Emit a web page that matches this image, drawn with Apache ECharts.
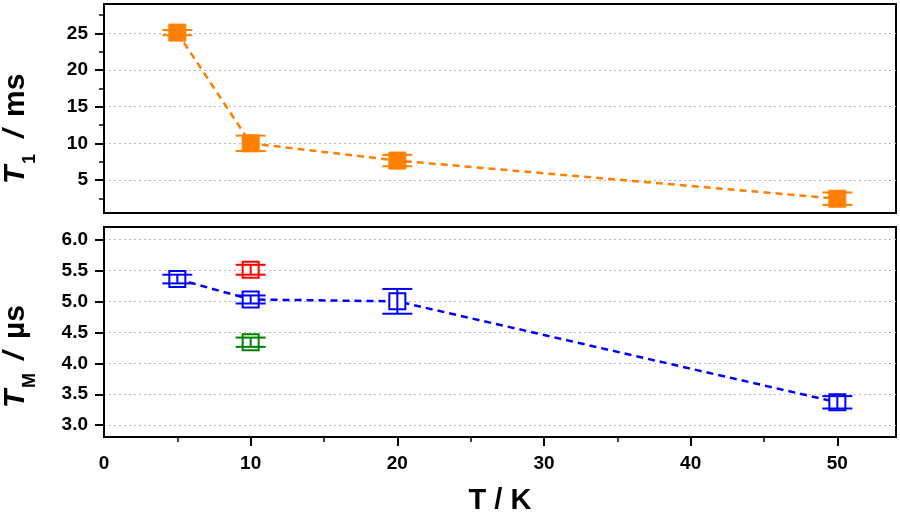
<!DOCTYPE html>
<html>
<head>
<meta charset="utf-8">
<script src="https://cdn.jsdelivr.net/npm/echarts@6/dist/echarts.min.js"></script>
<style>
html, body { margin: 0; padding: 0; background: #fff; }
#chart { width: 900px; height: 515px; }
</style>
</head>
<body>
<div id="chart"></div>
<script>
// temperatures (K)
const tempK = [5, 10, 20, 50];
// T1 (ms) with error
const t1Ms = [25.1, 10.0, 7.65, 2.45];
const t1Err = [0.35, 1.05, 0.78, 0.85];
// TM (us), blue series
const tmUs = [5.36, 5.03, 5.0, 3.37];
const tmErr = [0.07, 0.065, 0.2, 0.1];
// extra points at 10 K
const redT = [10];
const redTm = [5.51];
const redErr = [0.08];
const greenT = [10];
const greenTm = [4.34];
const greenErr = [0.075];
// tick labels
const t1Ticks = [5, 10, 15, 20, 25];
const tmTicks = [3.0, 3.5, 4.0, 4.5, 5.0, 5.5, 6.0];
const tTicks = [0, 10, 20, 30, 40, 50];

const FONT = 'Liberation Sans, Arial, sans-serif';
const ORANGE = '#ff8000';
const BLUE = '#0000ff';
const RED = '#ff0000';
const GREEN = '#008000';

const chart = echarts.init(document.getElementById('chart'));

function pairs(xs, ys) {
    return xs.map((x, i) => [x, ys[i]]);
}

function errorBars(color, xs, ys, es, idx) {
    return {
        type: 'custom',
        xAxisIndex: idx,
        yAxisIndex: idx,
        z: 5,
        data: xs.map((x, i) => [x, ys[i], es[i]]),
        encode: {x: 0, y: 1},
        renderItem: (params, api) => {
            const x = api.value(0), y = api.value(1), e = api.value(2);
            const hi = api.coord([x, y + e]);
            const lo = api.coord([x, y - e]);
            const half = 15;
            const st = {stroke: color, lineWidth: 2};
            return {
                type: 'group',
                children: [
                    {type: 'line', shape: {x1: hi[0], y1: hi[1], x2: lo[0], y2: lo[1]}, style: st},
                    {type: 'line', shape: {x1: hi[0] - half, y1: hi[1], x2: hi[0] + half, y2: hi[1]}, style: st},
                    {type: 'line', shape: {x1: lo[0] - half, y1: lo[1], x2: lo[0] + half, y2: lo[1]}, style: st}
                ]
            };
        }
    };
}

// rotated axis-title piece, text runs upward from (x, y)
function vText(text, x, y, size, italic) {
    return {
        type: 'text', x: x, y: y, rotation: Math.PI / 2,
        style: {
            text: text, align: 'left', verticalAlign: 'middle',
            fontFamily: FONT, fontWeight: 'bold', fontStyle: italic ? 'italic' : 'normal',
            fontSize: size, fill: '#000'
        }
    };
}

const yLabel = {color: '#000', fontFamily: FONT, fontWeight: 'bold', fontSize: 19, margin: 16};
const gridLine = {show: true, lineStyle: {color: '#b8b8b8', type: [2, 3], width: 1}};

const option = {
    animation: false,
    grid: [
        {left: 104, right: 4, top: 4, height: 209, show: true, borderColor: '#000', borderWidth: 2},
        {left: 104, right: 4, top: 227, height: 210, show: true, borderColor: '#000', borderWidth: 2}
    ],
    xAxis: [
        {
            gridIndex: 0, type: 'value', min: 0, max: 54, interval: 10,
            axisLine: {show: true, lineStyle: {color: '#000', width: 2}},
            axisTick: {show: false}, axisLabel: {show: false}, splitLine: {show: false}
        },
        {
            gridIndex: 1, type: 'value', min: 0, max: 54, interval: 10,
            axisLine: {show: true, lineStyle: {color: '#000', width: 2}},
            axisTick: {show: true, length: 9, customValues: [10, 20, 30, 40, 50], lineStyle: {color: '#000', width: 2}},
            minorTick: {show: true, splitNumber: 2, length: 5, lineStyle: {color: '#000', width: 1.5}},
            axisLabel: {customValues: tTicks, color: '#000', fontFamily: FONT, fontWeight: 'bold', fontSize: 19, margin: 17},
            splitLine: {show: false}
        }
    ],
    yAxis: [
        {
            gridIndex: 0, type: 'value', min: 0.5, max: 29, splitNumber: 5,
            axisLine: {show: true, lineStyle: {color: '#000', width: 2}},
            axisTick: {show: true, length: 9, customValues: t1Ticks, lineStyle: {color: '#000', width: 2}},
            minorTick: {show: true, splitNumber: 2, length: 5, lineStyle: {color: '#000', width: 1.5}},
            axisLabel: Object.assign({customValues: t1Ticks}, yLabel),
            splitLine: gridLine
        },
        {
            gridIndex: 1, type: 'value', min: 2.81, max: 6.2, splitNumber: 7,
            axisLine: {show: true, lineStyle: {color: '#000', width: 2}},
            axisTick: {show: true, length: 9, customValues: tmTicks, lineStyle: {color: '#000', width: 2}},
            axisLabel: Object.assign({customValues: tmTicks, formatter: v => v.toFixed(1)}, yLabel),
            splitLine: gridLine
        }
    ],
    graphic: [
        // T1 / ms
        vText('T', 16, 184, 30, true),
        vText('1', 30, 164, 18, false),
        vText('/', 16, 138, 30, true),
        vText('ms', 16, 117, 30, false),
        // TM / µs
        vText('T', 16, 408, 30, true),
        vText('M', 30, 388, 18, false),
        vText('/', 16, 360, 30, true),
        vText('\u00b5s', 16, 339, 30, false),
        {
            type: 'text', x: 500, y: 501,
            style: {
                text: 'T / K', align: 'center', verticalAlign: 'middle',
                fontFamily: FONT, fontWeight: 'bold', fontSize: 29, fill: '#000'
            }
        }
    ],
    series: [
        {
            type: 'line', xAxisIndex: 0, yAxisIndex: 0, z: 2,
            data: pairs(tempK, t1Ms),
            symbol: 'rect', symbolSize: 17,
            itemStyle: {color: ORANGE, borderColor: ORANGE, borderWidth: 1},
            lineStyle: {color: ORANGE, width: 2.5, type: [7, 5]}
        },
        errorBars(ORANGE, tempK, t1Ms, t1Err, 0),
        {
            type: 'line', xAxisIndex: 1, yAxisIndex: 1, z: 2,
            data: pairs(tempK, tmUs),
            symbol: 'rect', symbolSize: 16,
            itemStyle: {color: '#fff', borderColor: BLUE, borderWidth: 2},
            lineStyle: {color: BLUE, width: 2.5, type: [7, 5]}
        },
        errorBars(BLUE, tempK, tmUs, tmErr, 1),
        {
            type: 'scatter', xAxisIndex: 1, yAxisIndex: 1, z: 2,
            data: pairs(redT, redTm),
            symbol: 'rect', symbolSize: 16,
            itemStyle: {color: '#fff', borderColor: RED, borderWidth: 2, opacity: 1}
        },
        errorBars(RED, redT, redTm, redErr, 1),
        {
            type: 'scatter', xAxisIndex: 1, yAxisIndex: 1, z: 2,
            data: pairs(greenT, greenTm),
            symbol: 'rect', symbolSize: 16,
            itemStyle: {color: '#fff', borderColor: GREEN, borderWidth: 2, opacity: 1}
        },
        errorBars(GREEN, greenT, greenTm, greenErr, 1)
    ]
};

chart.setOption(option);
window.onresize = chart.resize;
</script>
</body>
</html>
